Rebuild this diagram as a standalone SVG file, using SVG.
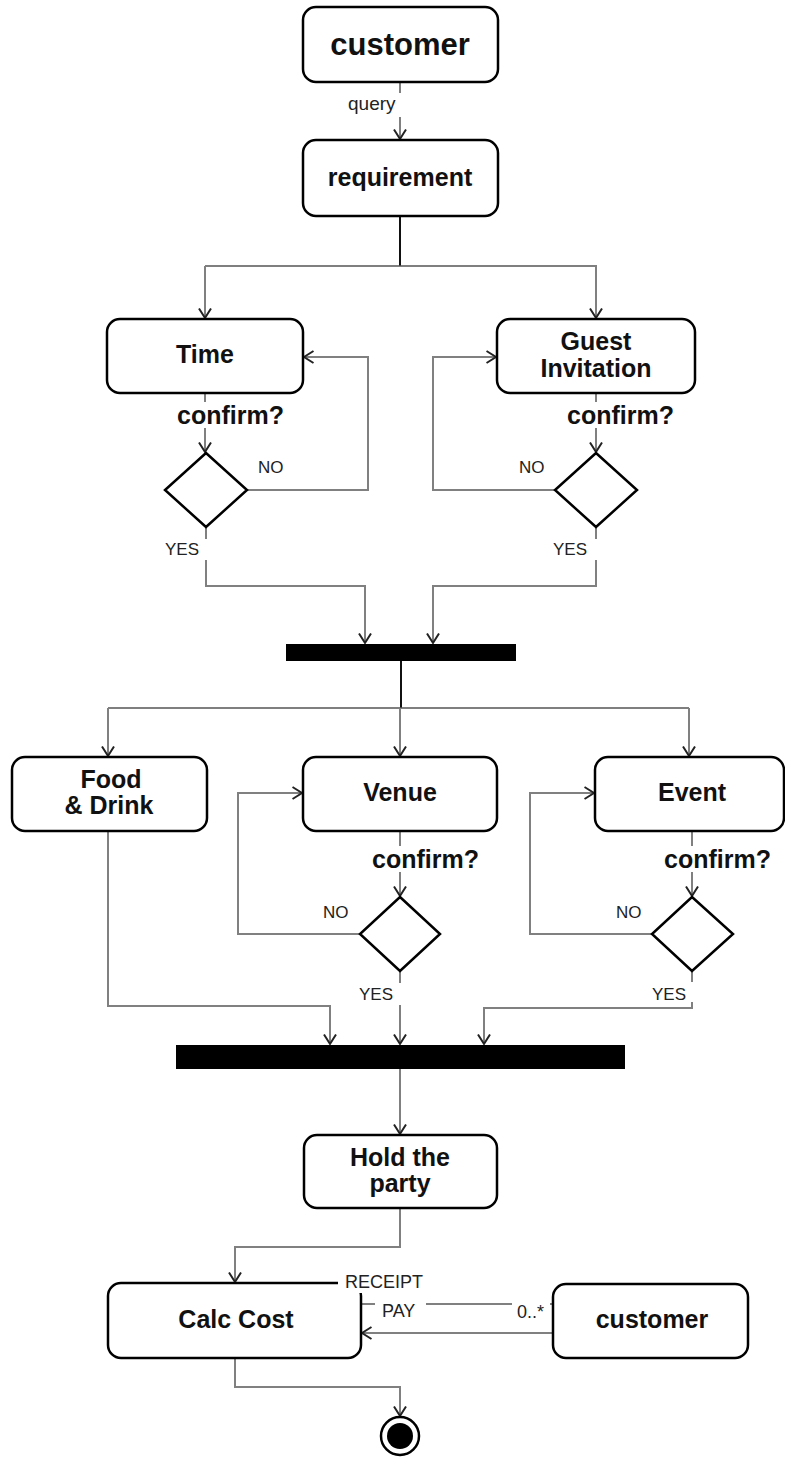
<svg xmlns="http://www.w3.org/2000/svg" width="785" height="1460" viewBox="0 0 785 1460">
<style>
.node{fill:#fff;stroke:#000;stroke-width:2.5}
.bar{fill:#000}
.t{font-family:"Liberation Sans",Arial,sans-serif;font-weight:bold;font-size:25px;fill:#111;text-anchor:middle}
.c{font-family:"Liberation Sans",Arial,sans-serif;font-weight:bold;font-size:25px;fill:#111}
.l{font-family:"Liberation Sans",Arial,sans-serif;font-size:17px;fill:#222}
.e{fill:none;stroke:#808080;stroke-width:2}
.k{fill:none;stroke:#111;stroke-width:2}
.h{fill:none;stroke:#555;stroke-width:1.6}
.bg{fill:#fff}
</style>
<defs>
<marker id="arr" viewBox="0 0 12 14" refX="10.5" refY="7" markerWidth="12" markerHeight="14" markerUnits="userSpaceOnUse" orient="auto">
<path d="M1,1 L10.5,7 L1,13" fill="none" stroke="#222" stroke-width="2"/>
</marker>
</defs>
<rect width="785" height="1460" fill="#fff"/>

<g id="connectors">
<path class="e" d="M400,82 V139" marker-end="url(#arr)"/>
<path class="k" d="M400,216 V266"/>
<path class="h" d="M205,266 H597"/>
<path class="e" d="M205,266 V318" marker-end="url(#arr)"/>
<path class="e" d="M596,266 V318" marker-end="url(#arr)"/>
<path class="e" d="M205,393 V452" marker-end="url(#arr)"/>
<path class="e" d="M596,393 V452" marker-end="url(#arr)"/>
<path class="e" d="M247,490 H368 V357 H304" marker-end="url(#arr)"/>
<path class="e" d="M555,490 H433 V357 H496" marker-end="url(#arr)"/>
<path class="e" d="M206,527 V586 H365 V643" marker-end="url(#arr)"/>
<path class="e" d="M596,527 V586 H433 V643" marker-end="url(#arr)"/>
<path class="k" d="M401,661 V708"/>
<path class="h" d="M108,708 H689"/>
<path class="e" d="M108,708 V756" marker-end="url(#arr)"/>
<path class="e" d="M400,708 V756" marker-end="url(#arr)"/>
<path class="e" d="M689,708 V756" marker-end="url(#arr)"/>
<path class="e" d="M400,831 V896" marker-end="url(#arr)"/>
<path class="e" d="M692,831 V896" marker-end="url(#arr)"/>
<path class="e" d="M360,934 H238 V793 H302" marker-end="url(#arr)"/>
<path class="e" d="M652,934 H530 V793 H594" marker-end="url(#arr)"/>
<path class="e" d="M108,831 V1006 H330 V1044" marker-end="url(#arr)"/>
<path class="e" d="M400,971 V1044" marker-end="url(#arr)"/>
<path class="e" d="M692,971 V1008 H484 V1044" marker-end="url(#arr)"/>
<path class="e" d="M400,1069 V1134" marker-end="url(#arr)"/>
<path class="e" d="M400,1208 V1247 H235 V1282" marker-end="url(#arr)"/>
<path class="e" d="M361,1304 H553"/>
<path class="e" d="M553,1333 H362" marker-end="url(#arr)"/>
<path class="e" d="M235,1358 V1387 H400 V1416" marker-end="url(#arr)"/>
</g>

<g id="customer_top"><rect class="node" x="303" y="7" width="195" height="75" rx="13"/><text class="t" x="400" y="55" style="font-size:31px">customer</text></g>
<g id="requirement"><rect class="node" x="303" y="140" width="195" height="76" rx="13"/><text class="t" x="400" y="186">requirement</text></g>
<g id="time"><rect class="node" x="107" y="319" width="196" height="74" rx="13"/><text class="t" x="205" y="363">Time</text></g>
<g id="guest"><rect class="node" x="497" y="319" width="198" height="74" rx="13"/><text class="t" x="596" y="350">Guest</text><text class="t" x="596" y="377">Invitation</text></g>
<g id="time_decision"><polygon class="node" points="206,453 247,490 206,527 165,490"/></g>
<g id="guest_decision"><polygon class="node" points="596,453 637,490 596,527 555,490"/></g>
<g id="fork1"><rect class="bar" x="286" y="644" width="230" height="17"/></g>
<g id="food"><rect class="node" x="12" y="757" width="195" height="74" rx="13"/><text class="t" x="111" y="788">Food</text><text class="t" x="109" y="814">&amp; Drink</text></g>
<g id="venue"><rect class="node" x="303" y="757" width="194" height="74" rx="13"/><text class="t" x="400" y="801">Venue</text></g>
<g id="event"><rect class="node" x="595" y="757" width="189" height="74" rx="13"/><text class="t" x="692" y="801">Event</text></g>
<g id="venue_decision"><polygon class="node" points="400,897 440,934 400,971 360,934"/></g>
<g id="event_decision"><polygon class="node" points="692,897 733,934 692,971 652,934"/></g>
<g id="join"><rect class="bar" x="176" y="1045" width="449" height="24"/></g>
<g id="hold"><rect class="node" x="304" y="1135" width="193" height="73" rx="13"/><text class="t" x="400" y="1166">Hold the</text><text class="t" x="400" y="1192">party</text></g>
<g id="calc"><rect class="node" x="108" y="1283" width="253" height="75" rx="13"/><text class="t" x="236" y="1328">Calc Cost</text></g>
<g id="customer_bottom"><rect class="node" x="553" y="1284" width="195" height="74" rx="13"/><text class="t" x="652" y="1328">customer</text></g>
<g id="final"><circle cx="400" cy="1436" r="19" fill="#fff" stroke="#000" stroke-width="2.5"/><circle cx="400" cy="1436" r="13" fill="#000"/></g>

<g id="labels">
<rect class="bg" x="346" y="93" width="60" height="24"/><text class="l" x="348" y="110" style="font-size:19px">query</text>
<rect class="bg" x="175" y="402" width="112" height="26"/><text class="c" x="177" y="424">confirm?</text>
<rect class="bg" x="565" y="402" width="112" height="26"/><text class="c" x="567" y="424">confirm?</text>
<rect class="bg" x="370" y="846" width="112" height="26"/><text class="c" x="372" y="868">confirm?</text>
<rect class="bg" x="662" y="846" width="112" height="26"/><text class="c" x="664" y="868">confirm?</text>
<text class="l" x="258" y="473">NO</text>
<text class="l" x="519" y="473">NO</text>
<text class="l" x="323" y="918">NO</text>
<text class="l" x="616" y="918">NO</text>
<rect class="bg" x="163" y="539" width="46" height="21"/><text class="l" x="165" y="555">YES</text>
<rect class="bg" x="551" y="539" width="48" height="21"/><text class="l" x="553" y="555">YES</text>
<rect class="bg" x="357" y="983" width="46" height="22"/><text class="l" x="359" y="1000">YES</text>
<rect class="bg" x="650" y="982" width="45" height="20"/><text class="l" x="652" y="1000">YES</text>
<rect class="bg" x="338" y="1271" width="96" height="22"/><text class="l" x="345" y="1288" style="font-size:18px">RECEIPT</text>
<rect class="bg" x="375" y="1296" width="51" height="24"/><text class="l" x="382" y="1317" style="font-size:18px">PAY</text>
<rect class="bg" x="512" y="1296" width="38" height="24"/><text class="l" x="517" y="1318" style="font-size:18px">0..*</text>
</g>
</svg>
